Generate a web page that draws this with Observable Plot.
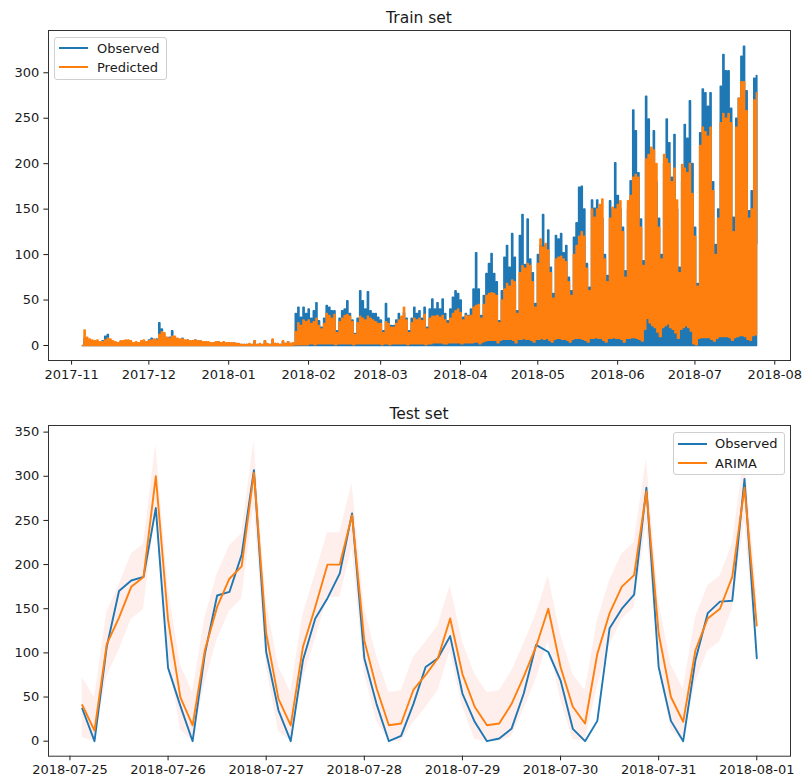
<!DOCTYPE html>
<html><head><meta charset="utf-8">
<script src="https://cdn.jsdelivr.net/npm/d3@7"></script>
<script src="https://cdn.jsdelivr.net/npm/@observablehq/plot@0.6"></script>
<style>
body{margin:0;background:#fff;font-family:"DejaVu Sans",sans-serif;}
#fig{position:relative;width:804px;height:778px;overflow:hidden;background:#fff;}
.title{position:absolute;left:48px;width:742px;text-align:center;font-size:15.5px;line-height:18px;color:#1a1a1a;z-index:4;}
.plot{position:absolute;left:0;z-index:1;}
.legend{position:absolute;background:rgba(255,255,255,0.8);border:1px solid #cfcfcf;border-radius:3px;box-sizing:border-box;z-index:5;}
.legend .sw{position:absolute;height:2px;width:29px;}
.legend .lb{position:absolute;font-size:13px;line-height:15px;color:#1a1a1a;white-space:nowrap;}
</style></head>
<body>
<div id="fig">
  <div class="title" style="top:9px">Train set</div>
  <div id="train" class="plot" style="top:22px"></div>
  <div class="title" style="top:405px">Test set</div>
  <div id="test" class="plot" style="top:415px"></div>
  <div id="legTrain" class="legend" style="left:54px;top:37px;width:113px;height:43px"></div>
  <div id="legTest" class="legend" style="left:673px;top:432px;width:112px;height:43px"></div>
</div>
<script>
// ---------------- DATA ----------------
// Train set: one daily peak (evening) and one daily low (early morning)
const trainStart = "2017-11-05";
const trainObsPeak = [
  8,6,4,3,4,3,2,5,10,12,6,3,3,2,4,3,5,4,3,2,3,2,4,5,3,6,
  8,5,7,25,18,10,8,9,16,9,7,6,8,5,6,4,5,6,4,5,3,4,3,2,3,3,4,3,3,2,3,
  2,3,2,1,1,1,1,1,1,5,1,1,1,5,1,1,6,2,1,1,4,2,4,2,2,35,42,31,42,35,40,
  30,38,47,27,20,30,44,42,38,38,16,30,38,40,49,35,28,13,30,60,49,40,59,38,35,35,31,28,
  16,46,30,22,22,28,35,30,36,30,16,30,42,35,38,30,42,20,40,51,40,47,40,51,35,27,40,53,60,57,50,
  31,35,33,40,62,102,62,33,55,79,90,101,79,70,27,60,97,110,86,123,97,38,121,144,89,139,95,80,46,100,
  110,144,110,127,86,57,121,117,123,102,110,75,60,119,135,174,175,150,90,64,160,151,160,150,140,100,77,159,150,201,165,
  150,130,82,150,181,259,236,190,139,93,274,249,200,236,180,140,100,200,249,223,185,232,150,86,180,243,228,269,200,130,
  68,234,282,278,263,278,180,111,150,285,320,302,302,261,141,250,272,318,329,280,148,170,294,297
];
const trainPredPeak = [
  17,9,7,6,5,6,4,4,6,8,7,5,4,3,5,5,6,6,5,3,4,3,5,6,4,5,
  6,7,6,12,15,14,9,8,10,10,8,7,7,6,6,5,5,6,5,5,4,4,4,3,3,4,4,3,4,3,3,
  3,3,2,2,1,1,1,2,1,5,1,2,1,5,2,1,7,2,2,1,5,2,4,2,3,15,25,22,28,26,28,
  24,26,30,22,18,24,35,33,30,34,14,26,30,33,34,32,26,12,25,32,30,28,32,30,28,26,24,24,
  14,26,24,20,20,24,28,32,42,28,14,25,30,28,30,27,34,18,30,32,32,33,31,33,28,24,30,35,38,40,36,
  28,33,32,33,42,44,45,30,45,55,57,58,57,55,25,50,62,68,65,72,70,35,80,88,85,90,88,70,42,90,
  117,108,112,105,80,52,95,97,98,95,92,70,55,100,110,120,125,120,85,60,150,141,150,155,161,95,70,140,152,150,155,
  159,125,75,159,165,185,188,185,130,88,205,210,218,215,200,130,95,210,205,200,180,195,160,80,199,195,190,200,167,120,
  65,220,240,235,230,240,170,100,140,245,255,250,255,245,125,240,272,290,290,258,140,150,270,278
];
const trainPredLow = [
  0,0,0,0,0,0,0,0,0,0,0,0,0,0,0,0,0,0,0,0,0,0,0,0,0,0,
  0,0,0,0,0,0,0,0,0,0,0,0,0,0,0,0,0,0,0,0,0,0,0,0,0,0,0,0,0,0,0,
  0,0,0,0,0,0,0,0,0,0,0,0,0,0,0,0,0,0,0,0,0,0,0,0,0,1,1,1,1,1,1,
  2,2,1,2,2,2,2,2,2,2,1,2,2,2,2,2,2,1,2,2,2,2,2,2,2,2,2,2,
  1,2,2,1,2,2,2,2,2,2,1,2,2,2,2,2,2,1,2,2,3,3,3,3,2,2,3,3,3,3,3,
  2,3,3,3,3,4,4,2,4,5,6,6,6,6,3,6,7,7,7,7,6,3,7,7,8,7,7,6,4,7,
  7,8,7,8,6,4,7,8,8,7,7,6,4,7,8,8,8,7,6,4,8,8,9,8,8,6,4,8,8,9,8,
  8,7,4,8,8,9,9,8,7,5,18,30,25,22,20,15,10,20,22,24,20,18,14,8,18,20,22,20,16,2,
  1,8,9,9,9,9,7,5,8,10,10,10,10,9,6,9,10,11,11,10,7,6,11,12
];
const trainObsLow = 0;
const trainLastObs = 112;
const trainLastPred = 276;
const trainTicks = ["2017-11-01","2017-12-01","2018-01-01","2018-02-01","2018-03-01","2018-04-01","2018-05-01","2018-06-01","2018-07-01","2018-08-01"];
const trainYTicks = [0,50,100,150,200,250,300];

// Test set: every 3 hours from 2018-07-25 03:00
const testStart = "2018-07-25T03:00";
const testObserved = [37,0,107,170,182,186,264,83,40,0,99,165,169,211,307,101,35,0,92,139,162,190,258,94,42,0,6,42,84,94,119,54,22,0,3,14,54,109,101,69,14,0,23,128,150,166,287,84,23,0,92,145,158,159,297,94];
const testArima = [41,12,110,140,175,186,300,137,50,18,103,152,184,198,304,122,48,18,107,152,200,200,256,114,60,18,20,58,75,94,139,76,39,18,20,42,73,107,150,84,39,20,99,145,175,188,283,122,50,22,103,139,150,186,287,131];
const testLower = [4,0,73,103,138,149,263,100,13,0,66,115,147,161,267,85,11,0,70,115,163,163,219,77,23,0,0,21,38,57,102,39,2,0,0,5,36,70,113,47,2,0,62,108,138,151,246,85,13,0,66,102,113,149,250,94];
const testUpper = [72,49,146,177,212,223,336,174,87,55,140,189,221,235,340,159,85,55,144,189,236,236,292,151,97,55,57,95,112,131,176,113,76,55,57,79,110,144,187,121,76,57,136,182,212,225,320,159,87,59,140,176,187,223,324,168];
const testTicks = ["2018-07-25","2018-07-26","2018-07-27","2018-07-28","2018-07-29","2018-07-30","2018-07-31","2018-08-01"];
const testYTicks = [0,50,100,150,200,250,300,350];

const BLUE = "#1f77b4", ORANGE = "#ff7f0e";

// ---------------- BUILD ROWS ----------------
const day0 = new Date(trainStart + "T00:00Z");
const obsRows = [], predRows = [];
trainObsPeak.forEach((v, i) => {
  const base = d3.utcDay.offset(day0, i);
  obsRows.push({t: d3.utcHour.offset(base, 6), v: trainObsLow});
  obsRows.push({t: d3.utcHour.offset(base, 21), v});
  predRows.push({t: d3.utcHour.offset(base, 6), v: trainPredLow[i]});
  predRows.push({t: d3.utcHour.offset(base, 21), v: trainPredPeak[i]});
});
const trainEndT = d3.utcDay.offset(day0, trainObsPeak.length);
obsRows.push({t: trainEndT, v: trainLastObs});
predRows.push({t: trainEndT, v: trainLastPred});

const t0 = new Date(testStart + ":00Z");
const testRows = testObserved.map((o, k) => ({
  t: d3.utcHour.offset(t0, 3 * k), obs: o, arima: testArima[k], lo: testLower[k], hi: testUpper[k]
}));

const style = {fontFamily: "DejaVu Sans", fontSize: "13px", color: "#1a1a1a", background: "transparent", overflow: "visible"};

const train = Plot.plot({
  width: 804, height: 370, marginTop: 8, marginBottom: 32, marginLeft: 48, marginRight: 14,
  style,
  x: {type: "utc", domain: [new Date("2017-10-23T01:00Z"), new Date("2018-08-07T02:30Z")],
      ticks: trainTicks.map(s => new Date(s + "T00:00Z")), tickFormat: d3.utcFormat("%Y-%m"),
      tickSize: 4.6, tickPadding: 4.2, label: null},
  y: {domain: [-16.5, 346.5], ticks: trainYTicks, tickSize: 4.6, tickPadding: 4.6, label: null},
  marks: [
    Plot.line(obsRows, {x: "t", y: "v", stroke: BLUE, strokeWidth: 1.7, curve: "step-after"}),
    Plot.line(predRows, {x: "t", y: "v", stroke: ORANGE, strokeWidth: 1.7, curve: "step-after"}),
    Plot.frame({stroke: "#333", strokeWidth: 1})
  ]
});
document.getElementById("train").append(train);

const test = Plot.plot({
  width: 804, height: 363, marginTop: 10, marginBottom: 22.3, marginLeft: 48, marginRight: 14,
  style,
  x: {type: "utc", domain: [new Date("2018-07-24T18:45Z"), new Date("2018-08-01T08:15Z")],
      ticks: testTicks.map(s => new Date(s + "T00:00Z")), tickFormat: d3.utcFormat("%Y-%m-%d"),
      tickSize: 4.6, tickPadding: 4.2, label: null},
  y: {domain: [-17, 357.5], ticks: testYTicks, tickSize: 4.6, tickPadding: 4.6, label: null},
  marks: [
    Plot.areaY(testRows, {x: "t", y1: "lo", y2: "hi", fill: "#fa8072", fillOpacity: 0.13}),
    Plot.line(testRows, {x: "t", y: "obs", stroke: BLUE, strokeWidth: 1.9}),
    Plot.line(testRows, {x: "t", y: "arima", stroke: ORANGE, strokeWidth: 1.9}),
    Plot.frame({stroke: "#333", strokeWidth: 1})
  ]
});
document.getElementById("test").append(test);

// ---------------- LEGENDS ----------------
function legend(id, entries, swLeft, txtLeft, ys) {
  const el = document.getElementById(id);
  entries.forEach((e, i) => {
    const sw = document.createElement("div");
    sw.className = "sw"; sw.style.background = e.color;
    sw.style.left = swLeft + "px"; sw.style.top = (ys[i] - 1) + "px";
    const lb = document.createElement("div");
    lb.className = "lb"; lb.textContent = e.label;
    lb.style.left = txtLeft + "px"; lb.style.top = (ys[i] - 7.5) + "px";
    el.append(sw, lb);
  });
}
legend("legTrain", [{label: "Observed", color: BLUE}, {label: "Predicted", color: ORANGE}], 4, 42, [10, 29]);
legend("legTest", [{label: "Observed", color: BLUE}, {label: "ARIMA", color: ORANGE}], 4, 41, [10.5, 30]);
</script>
</body></html>
